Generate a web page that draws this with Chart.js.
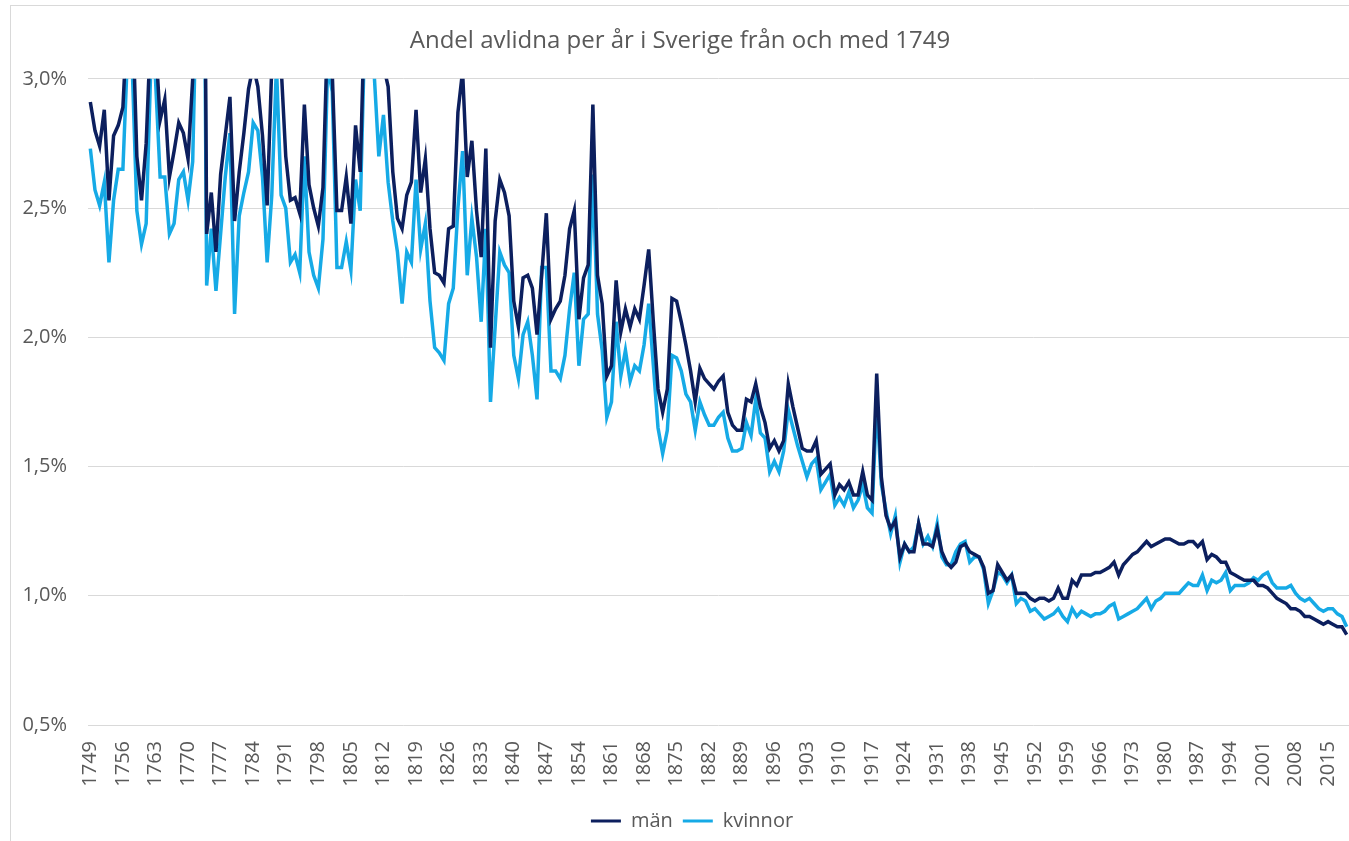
<!DOCTYPE html>
<html>
<head>
<meta charset="utf-8">
<script src="https://cdn.jsdelivr.net/npm/chart.js@4.4.1/dist/chart.umd.min.js"></script>
<style>
html, body { margin:0; padding:0; background:#fff; overflow:hidden; width:1349px; height:841px; }
#frame { position:absolute; left:10px; top:5px; width:1340px; height:840px; border:1px solid #d9d9d9; box-sizing:border-box; }
#frame canvas { display:block; }
</style>
</head>
<body>
<div id="frame"><canvas id="chart_deaths" width="1338" height="838"></canvas></div>
<script>
// Andel avlidna per år (%), 1749-2019
const first_year = 1749;
const tick_years = [1749,1756,1763,1770,1777,1784,1791,1798,1805,1812,1819,1826,1833,1840,1847,1854,1861,1868,1875,1882,1889,1896,1903,1910,1917,1924,1931,1938,1945,1952,1959,1966,1973,1980,1987,1994,2001,2008,2015];

const man = [
	2.91, 2.80, 2.74, 2.88, 2.53, 2.78, 2.82, 2.89, 3.25, 3.30, // 1749-
	2.70, 2.53, 2.75, 3.20, 3.15, 2.84, 2.92, 2.62, 2.72, 2.83, // 1759-
	2.79, 2.69, 3.00, 3.80, 5.20, 2.40, 2.56, 2.33, 2.63, 2.78, // 1769-
	2.93, 2.45, 2.64, 2.79, 2.96, 3.05, 2.97, 2.78, 2.51, 3.05, // 1779-
	3.25, 3.05, 2.70, 2.53, 2.54, 2.48, 2.90, 2.59, 2.50, 2.43, // 1789-
	2.58, 3.20, 3.02, 2.49, 2.49, 2.62, 2.44, 2.82, 2.64, 3.30, // 1799-
	3.90, 3.30, 3.10, 3.05, 2.97, 2.64, 2.46, 2.42, 2.55, 2.60, // 1809-
	2.88, 2.56, 2.69, 2.42, 2.25, 2.24, 2.21, 2.42, 2.43, 2.87, // 1819-
	3.03, 2.62, 2.76, 2.49, 2.31, 2.73, 1.96, 2.45, 2.61, 2.56, // 1829-
	2.47, 2.14, 2.04, 2.23, 2.24, 2.19, 2.01, 2.24, 2.48, 2.07, // 1839-
	2.11, 2.14, 2.24, 2.42, 2.49, 2.07, 2.23, 2.28, 2.90, 2.24, // 1849-
	2.13, 1.85, 1.89, 2.22, 2.02, 2.11, 2.04, 2.11, 2.07, 2.20, // 1859-
	2.34, 2.06, 1.80, 1.71, 1.80, 2.15, 2.14, 2.06, 1.97, 1.87, // 1869-
	1.75, 1.88, 1.84, 1.82, 1.80, 1.83, 1.85, 1.71, 1.66, 1.64, // 1879-
	1.64, 1.76, 1.75, 1.82, 1.73, 1.67, 1.57, 1.60, 1.56, 1.60, // 1889-
	1.82, 1.73, 1.65, 1.57, 1.56, 1.56, 1.60, 1.47, 1.49, 1.51, // 1899-
	1.39, 1.43, 1.41, 1.44, 1.39, 1.39, 1.48, 1.39, 1.37, 1.86, // 1909-
	1.46, 1.31, 1.26, 1.29, 1.15, 1.20, 1.17, 1.17, 1.28, 1.20, // 1919-
	1.20, 1.19, 1.26, 1.17, 1.13, 1.11, 1.13, 1.19, 1.20, 1.17, // 1929-
	1.16, 1.15, 1.11, 1.01, 1.02, 1.12, 1.09, 1.06, 1.08, 1.01, // 1939-
	1.01, 1.01, 0.99, 0.98, 0.99, 0.99, 0.98, 0.99, 1.03, 0.99, // 1949-
	0.99, 1.06, 1.04, 1.08, 1.08, 1.08, 1.09, 1.09, 1.10, 1.11, // 1959-
	1.13, 1.08, 1.12, 1.14, 1.16, 1.17, 1.19, 1.21, 1.19, 1.20, // 1969-
	1.21, 1.22, 1.22, 1.21, 1.20, 1.20, 1.21, 1.21, 1.19, 1.21, // 1979-
	1.14, 1.16, 1.15, 1.13, 1.13, 1.09, 1.08, 1.07, 1.06, 1.06, // 1989-
	1.06, 1.04, 1.04, 1.03, 1.01, 0.99, 0.98, 0.97, 0.95, 0.95, // 1999-
	0.94, 0.92, 0.92, 0.91, 0.90, 0.89, 0.90, 0.89, 0.88, 0.88, // 2009-
	0.85                                                        // 2019
];

const kvinnor = [
	2.73, 2.57, 2.51, 2.60, 2.29, 2.53, 2.65, 2.65, 3.10, 3.05, // 1749-
	2.49, 2.36, 2.44, 3.05, 3.00, 2.62, 2.62, 2.40, 2.44, 2.61, // 1759-
	2.64, 2.53, 2.68, 3.50, 4.80, 2.20, 2.42, 2.18, 2.40, 2.62, // 1769-
	2.79, 2.09, 2.47, 2.56, 2.64, 2.83, 2.80, 2.62, 2.29, 2.55, // 1779-
	3.05, 2.55, 2.50, 2.29, 2.32, 2.25, 2.70, 2.33, 2.24, 2.19, // 1789-
	2.38, 3.05, 2.95, 2.27, 2.27, 2.37, 2.26, 2.61, 2.49, 3.20, // 1799-
	3.60, 3.02, 2.70, 2.86, 2.60, 2.45, 2.33, 2.13, 2.33, 2.29, // 1809-
	2.61, 2.34, 2.44, 2.14, 1.96, 1.94, 1.91, 2.13, 2.19, 2.50, // 1819-
	2.72, 2.24, 2.46, 2.31, 2.06, 2.42, 1.75, 2.04, 2.33, 2.28, // 1829-
	2.25, 1.93, 1.84, 2.01, 2.06, 1.93, 1.76, 2.27, 2.27, 1.87, // 1839-
	1.87, 1.84, 1.93, 2.11, 2.25, 1.89, 2.07, 2.09, 2.63, 2.09, // 1849-
	1.95, 1.69, 1.75, 2.06, 1.85, 1.95, 1.83, 1.89, 1.87, 1.97, // 1859-
	2.13, 1.89, 1.65, 1.55, 1.64, 1.93, 1.92, 1.87, 1.78, 1.75, // 1869-
	1.64, 1.75, 1.70, 1.66, 1.66, 1.69, 1.71, 1.61, 1.56, 1.56, // 1879-
	1.57, 1.67, 1.62, 1.76, 1.63, 1.61, 1.48, 1.52, 1.48, 1.56, // 1889-
	1.72, 1.65, 1.58, 1.52, 1.46, 1.51, 1.53, 1.41, 1.44, 1.47, // 1899-
	1.35, 1.38, 1.35, 1.40, 1.34, 1.37, 1.43, 1.34, 1.32, 1.75, // 1909-
	1.43, 1.33, 1.24, 1.31, 1.13, 1.20, 1.17, 1.19, 1.28, 1.20, // 1919-
	1.23, 1.19, 1.28, 1.15, 1.12, 1.12, 1.17, 1.20, 1.21, 1.13, // 1929-
	1.15, 1.15, 1.10, 0.97, 1.02, 1.09, 1.08, 1.05, 1.08, 0.97, // 1939-
	0.99, 0.98, 0.94, 0.95, 0.93, 0.91, 0.92, 0.93, 0.95, 0.92, // 1949-
	0.90, 0.95, 0.92, 0.94, 0.93, 0.92, 0.93, 0.93, 0.94, 0.96, // 1959-
	0.97, 0.91, 0.92, 0.93, 0.94, 0.95, 0.97, 0.99, 0.95, 0.98, // 1969-
	0.99, 1.01, 1.01, 1.01, 1.01, 1.03, 1.05, 1.04, 1.04, 1.08, // 1979-
	1.02, 1.06, 1.05, 1.06, 1.09, 1.02, 1.04, 1.04, 1.04, 1.05, // 1989-
	1.07, 1.06, 1.08, 1.09, 1.05, 1.03, 1.03, 1.03, 1.04, 1.01, // 1999-
	0.99, 0.98, 0.99, 0.97, 0.95, 0.94, 0.95, 0.95, 0.93, 0.92, // 2009-
	0.88                                                        // 2019
];

const years = man.map((v, i) => String(first_year + i));
const col_man = '#0c1f5e';
const col_kvinnor = '#16aae6';
const txt = '#595959';
const fnt = "'Open Sans', sans-serif";

// legend sits a bit right of the canvas centre in the original
const legend_shift = {
	id: 'legend_shift',
	afterLayout: function(chart){
		if(chart.legend){ chart.legend.left += 12; chart.legend.right += 12; }
	}
};

new Chart(document.getElementById('chart_deaths'), {
	type: 'line',
	data: {
		labels: years,
		datasets: [
			{ label: 'män', data: man, borderColor: col_man, backgroundColor: col_man, borderWidth: 3.5, pointRadius: 0, tension: 0, fill: false },
			{ label: 'kvinnor', data: kvinnor, borderColor: col_kvinnor, backgroundColor: col_kvinnor, borderWidth: 3.5, pointRadius: 0, tension: 0, fill: false }
		]
	},
	plugins: [legend_shift],
	options: {
		responsive: false,
		animation: false,
		devicePixelRatio: 1,
		layout: { padding: { left: 0, right: 0, top: 0, bottom: 3 } },
		plugins: {
			tooltip: { enabled: false },
			title: {
				display: true,
				text: 'Andel avlidna per år i Sverige från och med 1749',
				color: txt,
				font: { family: fnt, size: 24, weight: 'normal' },
				padding: { top: 21, bottom: 23 }
			},
			legend: {
				position: 'bottom',
				labels: {
					color: txt,
					font: { family: fnt, size: 20 },
					boxWidth: 30,
					boxHeight: 3,
					padding: 10,
					generateLabels: function(chart){
						return chart.data.datasets.map(function(ds, i){
							return { text: ds.label, fillStyle: ds.borderColor, strokeStyle: ds.borderColor, lineWidth: 0, hidden: false, datasetIndex: i, fontColor: txt };
						});
					}
				}
			}
		},
		scales: {
			x: {
				offset: true,
				grid: { display: false, drawTicks: false },
				border: { display: false },
				ticks: {
					autoSkip: false,
					maxRotation: 90,
					minRotation: 90,
					padding: 16,
					color: txt,
					font: { family: fnt, size: 20 },
					callback: function(val, i){
						const y = first_year + i;
						return tick_years.indexOf(y) >= 0 ? String(y) : '';
					}
				},
				afterFit: function(scale){
					scale.height = 76;
					scale.paddingLeft = 0;
					scale.paddingRight = 0;
				}
			},
			y: {
				min: 0.5,
				max: 3.0,
				grid: { color: '#d9d9d9', lineWidth: 1, drawTicks: false },
				border: { display: false },
				ticks: {
					stepSize: 0.5,
					padding: 21,
					color: txt,
					font: { family: fnt, size: 20 },
					callback: function(v){ return v.toFixed(1).replace('.', ',') + '%'; }
				},
				afterFit: function(scale){
					scale.width = 77;
					scale.paddingTop = 0;
					scale.paddingBottom = 0;
				}
			}
		}
	}
});
</script>
</body>
</html>
